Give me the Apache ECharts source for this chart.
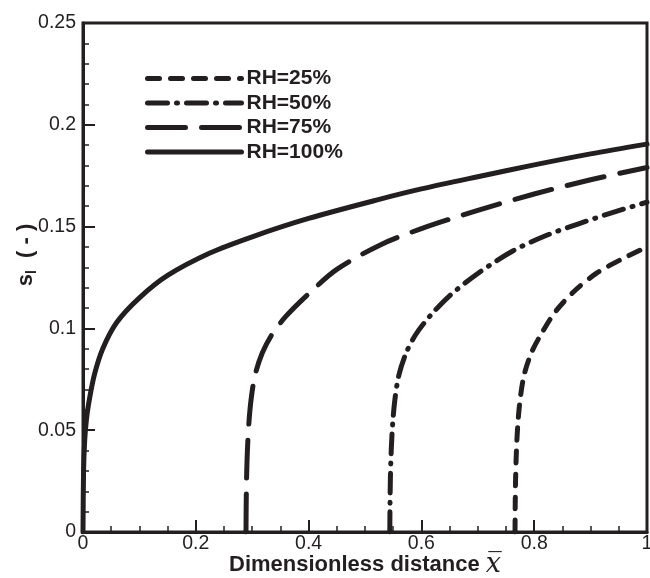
<!DOCTYPE html>
<html>
<head>
<meta charset="utf-8">
<script src="https://cdn.jsdelivr.net/npm/echarts@6/dist/echarts.min.js"></script>
<style>
  html, body { margin: 0; padding: 0; background: #fff; }
  #chart { width: 650px; height: 578px; }
</style>
</head>
<body>
<div id="chart"></div>
<script>
// values
const seriesNames = ['RH=25%', 'RH=50%', 'RH=75%', 'RH=100%'];

const x25 = [0.766, 0.7663, 0.767, 0.7685, 0.771, 0.775, 0.782, 0.795, 0.812, 0.837, 0.87, 0.91, 0.955, 1.0];
const y25 = [0, 0.012, 0.026, 0.040, 0.053, 0.065, 0.077, 0.088, 0.097, 0.108, 0.118, 0.127, 0.134, 0.140];

const x50 = [0.544, 0.5443, 0.545, 0.5465, 0.549, 0.553, 0.56, 0.573, 0.59, 0.615, 0.65, 0.7, 0.762, 0.82, 0.88, 0.94, 1.0];
const y50 = [0, 0.012, 0.026, 0.040, 0.053, 0.065, 0.077, 0.088, 0.097, 0.106, 0.116, 0.127, 0.138, 0.1455, 0.1515, 0.157, 0.162];

const x75 = [0.289, 0.2893, 0.29, 0.2915, 0.294, 0.298, 0.305, 0.318, 0.335, 0.36, 0.4, 0.45, 0.527, 0.6, 0.7, 0.8, 0.9, 1.0];
const y75 = [0, 0.012, 0.026, 0.040, 0.053, 0.065, 0.077, 0.088, 0.097, 0.106, 0.117, 0.129, 0.141, 0.149, 0.158, 0.166, 0.173, 0.179];

const x100 = [0, 0.001, 0.003, 0.006, 0.01, 0.02, 0.035, 0.06, 0.1, 0.15, 0.225, 0.3, 0.4, 0.527, 0.6, 0.7, 0.8, 0.9, 1.0];
const y100 = [0, 0.03, 0.045, 0.055, 0.063, 0.077, 0.090, 0.103, 0.115, 0.126, 0.137, 0.145, 0.154, 0.1635, 0.1685, 0.1745, 0.1803, 0.1857, 0.1905];

const xTicks = [0, 0.2, 0.4, 0.6, 0.8, 1];
const yTicks = [0, 0.05, 0.1, 0.15, 0.2, 0.25];

const ink = '#231f20';
const dashes = [[12, 11], [20, 9, 1, 9], [38, 16], 'solid'];
const xs = [x25, x50, x75, x100];
const ys = [y25, y50, y75, y100];

const chart = echarts.init(document.getElementById('chart'));

const series = seriesNames.map((name, i) => ({
  name: name,
  type: 'line',
  showSymbol: false,
  symbol: 'none',
  smooth: 0.3,
  data: xs[i].map((v, j) => [v, ys[i][j]]),
  lineStyle: { color: ink, width: 5, type: dashes[i], cap: 'round' },
  itemStyle: { color: ink }
}));

const option = {
  backgroundColor: '#fff',
  animation: false,
  grid: {
    left: 83,
    right: 3,
    top: 23,
    bottom: 46,
    outerBoundsMode: 'none',
    containLabel: false,
    show: true,
    borderColor: ink,
    borderWidth: 3
  },
  legend: {
    orient: 'vertical',
    left: 140,
    top: 63,
    itemWidth: 94,
    itemHeight: 14,
    itemGap: 3.5,
    data: seriesNames,
    itemStyle: { opacity: 0 },
    lineStyle: { width: 5, type: 'inherit', cap: 'round' },
    textStyle: { fontFamily: 'Liberation Sans', fontWeight: 'bold', fontSize: 21, lineHeight: 20, color: ink }
  },
  xAxis: {
    type: 'value',
    min: 0,
    max: 1,
    interval: 0.2,
    name: '{t|Dimensionless distance }{v|x\u0305}',
    nameLocation: 'middle',
    nameGap: 19,
    nameMoveOverlap: false,
    nameTextStyle: {
      rich: {
        t: { fontFamily: 'Liberation Sans', fontWeight: 'bold', fontSize: 22, color: ink },
        v: { fontFamily: 'DejaVu Serif', fontStyle: 'italic', fontSize: 27, color: ink }
      }
    },
    axisLine: { show: true, lineStyle: { color: ink, width: 3 } },
    axisTick: { show: true, inside: true, length: 12, lineStyle: { color: ink, width: 2 } },
    minorTick: { show: true, splitNumber: 4, length: 6, lineStyle: { color: ink, width: 1.5 } },
    splitLine: { show: false },
    axisLabel: {
      margin: 2,
      fontFamily: 'Liberation Sans',
      fontSize: 19.5,
      color: ink,
      formatter: v => (xTicks.includes(v) ? String(v) : '')
    }
  },
  yAxis: {
    type: 'value',
    min: 0,
    max: 0.25,
    interval: 0.05,
    name: '{s|s}{l|l}{p|  ( - )}',
    nameLocation: 'middle',
    nameRotate: 90,
    nameGap: 44,
    nameMoveOverlap: false,
    nameTextStyle: {
      padding: [0, 0, 0, 45],
      rich: {
        s: { fontFamily: 'Liberation Sans', fontWeight: 'bold', fontSize: 22, color: ink },
        l: { fontFamily: 'Liberation Sans', fontWeight: 'bold', fontSize: 14, color: ink, verticalAlign: 'bottom', padding: [13, 0, 0, 0] },
        p: { fontFamily: 'Liberation Sans', fontWeight: 'bold', fontSize: 22, color: ink }
      }
    },
    axisLine: { show: true, lineStyle: { color: ink, width: 3 } },
    axisTick: { show: true, inside: true, length: 12, lineStyle: { color: ink, width: 2 } },
    minorTick: { show: true, splitNumber: 5, length: 6, lineStyle: { color: ink, width: 1.5 } },
    splitLine: { show: false },
    axisLabel: {
      margin: 7,
      fontFamily: 'Liberation Sans',
      fontSize: 19.5,
      color: ink,
      formatter: v => (yTicks.includes(v) ? String(v) : '')
    }
  },
  series: series
};

chart.setOption(option);
</script>
</body>
</html>
